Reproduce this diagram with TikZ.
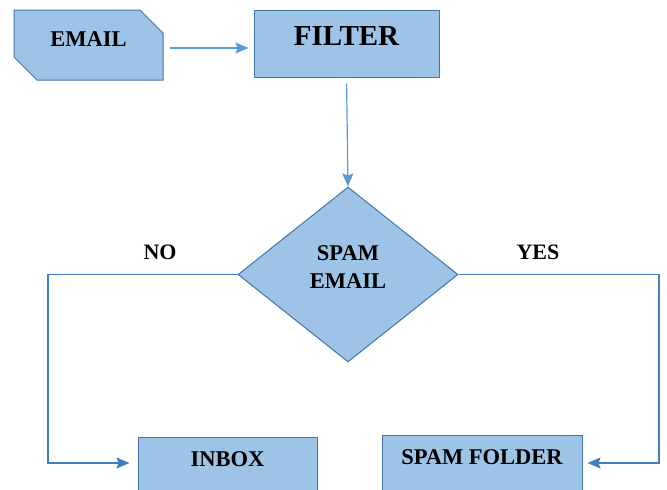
\documentclass[tikz,border=0pt]{standalone}
\usepackage{fontspec}
\setmainfont{Liberation Serif}
\usepackage{tikz}
\usetikzlibrary{arrows.meta,calc}
\usetikzlibrary{shapes.geometric,shapes.misc}

\definecolor{boxfill}{HTML}{9DC3E6}
\definecolor{boxline}{HTML}{4575A8}
\definecolor{flowline}{HTML}{5B9BD5}
\definecolor{sideline}{HTML}{3F7FC0}

\begin{document}
\begin{tikzpicture}[x=1pt,y=1pt,
  flow/.style={-{Stealth[length=13pt,width=11pt,inset=2pt]},draw=flowline,line width=1.2pt},
  side flow/.style={-{Stealth[length=13pt,width=11pt,inset=2pt]},draw=sideline,line width=1.3pt},
  main box/.style={rectangle,draw=boxline,fill=boxfill,line width=1pt,
    inner sep=0pt,font=\bfseries\fontsize{22.5}{28}\selectfont},
  label text/.style={font=\bfseries\fontsize{22}{26}\selectfont}]

  \clip (0,0) rectangle (667,-490);

  \node[main box,chamfered rectangle,chamfered rectangle corners={north east,south west},
    chamfered rectangle xsep=11pt,chamfered rectangle ysep=12pt,
    minimum width=149pt,minimum height=70pt,text depth=11pt] (email) at (88.5,-45) {EMAIL};
  \node[main box,minimum width=185pt,minimum height=67pt,text depth=15pt,
    font=\bfseries\fontsize{29}{34}\selectfont] (filter) at (346.5,-43.5) {FILTER};
  \node[main box,diamond,aspect=1.257,minimum width=220pt,minimum height=175pt,
    align=center,text depth=14pt] (spam) at (348,-274.5) {SPAM\\EMAIL};
  \node[main box,minimum width=179pt,minimum height=63pt,text depth=18pt] (inbox) at (227.5,-468.5) {INBOX};
  \node[main box,minimum width=200pt,minimum height=65pt,text depth=21pt] (folder) at (482,-467.5) {SPAM FOLDER};

  \node[label text] (no) at (160,-252) {NO};
  \node[label text] (yes) at (538,-252) {YES};

  \coordinate (nobend) at (48,-463);
  \coordinate (yesbend) at (659,-463);

  % top flow
  \draw[flow,shorten <=6pt,shorten >=5pt] ([yshift=-3pt]email.east) -- ([yshift=-4.5pt]filter.west);
  \draw[flow,shorten <=6pt] (filter.south) -- (spam.north);

  % decision branches
  \draw[side flow,shorten >=8pt] (spam.west) -| (nobend) -- (inbox.west |- nobend);
  \draw[side flow,shorten >=5pt] (spam.east) -| (yesbend) -- (folder.east |- yesbend);
\end{tikzpicture}
\end{document}
